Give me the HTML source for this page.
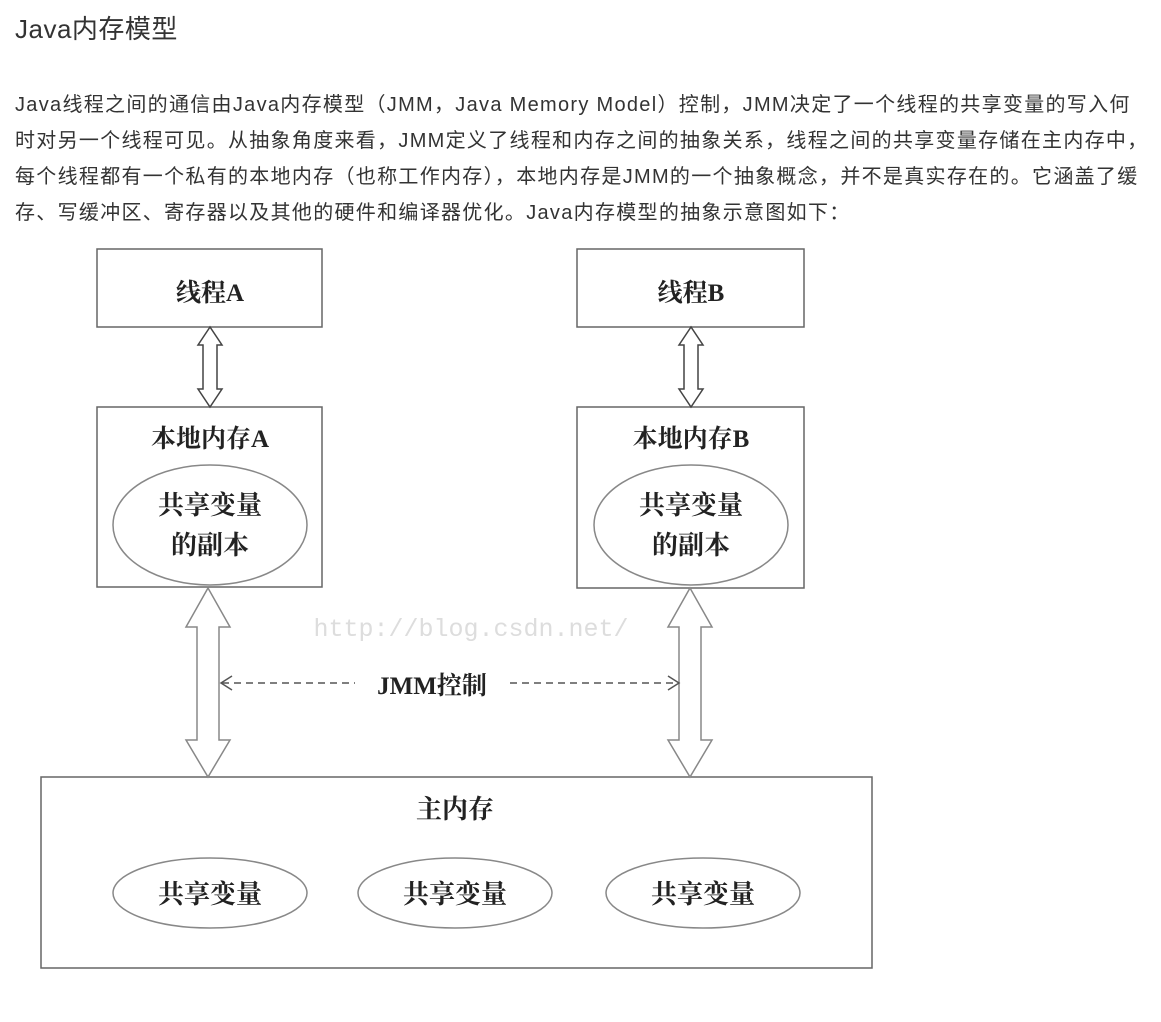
<!DOCTYPE html>
<html><head><meta charset="utf-8"><style>
html,body{margin:0;padding:0;background:#fff;width:1161px;height:1022px;overflow:hidden}
.t{position:absolute;left:15px;font-family:"Liberation Sans","Noto Sans CJK SC",sans-serif;color:#333}
h1{position:absolute;left:15px;top:9px;margin:0;font-weight:normal;font-size:26px;letter-spacing:0.5px;font-family:"Liberation Sans","Noto Sans CJK SC",sans-serif;color:#333}
.p{top:87px;font-size:20px;line-height:36px;width:1146px;letter-spacing:1.3px;white-space:nowrap}
svg{position:absolute;left:0;top:0}
svg text{font-family:"Liberation Serif","Noto Serif CJK SC",serif;fill:#222;font-weight:bold}
</style></head><body>
<h1>Java内存模型</h1>
<div class="t p">Java线程之间的通信由Java内存模型（JMM，Java Memory Model）控制，JMM决定了一个线程的共享变量的写入何<br>时对另一个线程可见。从抽象角度来看，JMM定义了线程和内存之间的抽象关系，线程之间的共享变量存储在主内存中，<br>每个线程都有一个私有的本地内存（也称工作内存），本地内存是JMM的一个抽象概念，并不是真实存在的。它涵盖了缓<br>存、写缓冲区、寄存器以及其他的硬件和编译器优化。Java内存模型的抽象示意图如下：</div>
<svg width="1161" height="1022" viewBox="0 0 1161 1022">
<g fill="none" stroke="#666" stroke-width="1.5">
<rect x="97" y="249" width="225" height="78"/>
<rect x="577" y="249" width="227" height="78"/>
<rect x="97" y="407" width="225" height="180"/>
<rect x="577" y="407" width="227" height="181"/>
<rect x="41" y="777" width="831" height="191"/>
<ellipse cx="210" cy="525" rx="97" ry="60" stroke="#888"/>
<ellipse cx="691" cy="525" rx="97" ry="60" stroke="#888"/>
<ellipse cx="210" cy="893" rx="97" ry="35" stroke="#888"/>
<ellipse cx="455" cy="893" rx="97" ry="35" stroke="#888"/>
<ellipse cx="703" cy="893" rx="97" ry="35" stroke="#888"/>
<path stroke="#444" d="M210 327 L198 345 L203 345 L203 389 L198 389 L210 407 L222 389 L217 389 L217 345 L222 345 Z"/>
<path stroke="#444" d="M691 327 L679 345 L684 345 L684 389 L679 389 L691 407 L703 389 L698 389 L698 345 L703 345 Z"/>
<path stroke="#888" d="M208 588 L186 627 L197 627 L197 740 L186 740 L208 777 L230 740 L219 740 L219 627 L230 627 Z"/>
<path stroke="#888" d="M690 588 L668 627 L679 627 L679 740 L668 740 L690 777 L712 740 L701 740 L701 627 L712 627 Z"/>
<path stroke="#555" stroke-dasharray="7,5" d="M222 683 L355 683 M510 683 L678 683"/>
<path stroke="#555" d="M232 676 L221 683 L232 690 M668 676 L679 683 L668 690"/>
</g>
<text x="210" y="301" font-size="25" text-anchor="middle">线程A</text>
<text x="691" y="301" font-size="25" text-anchor="middle">线程B</text>
<text x="210" y="447" font-size="25" text-anchor="middle">本地内存A</text>
<text x="691" y="447" font-size="25" text-anchor="middle">本地内存B</text>
<text x="210" y="514" font-size="26" text-anchor="middle">共享变量</text>
<text x="210" y="554" font-size="26" text-anchor="middle">的副本</text>
<text x="691" y="514" font-size="26" text-anchor="middle">共享变量</text>
<text x="691" y="554" font-size="26" text-anchor="middle">的副本</text>
<text x="455" y="818" font-size="26" text-anchor="middle">主内存</text>
<text x="210" y="903" font-size="26" text-anchor="middle">共享变量</text>
<text x="455" y="903" font-size="26" text-anchor="middle">共享变量</text>
<text x="703" y="903" font-size="26" text-anchor="middle">共享变量</text>
<text x="432" y="694" font-size="25" text-anchor="middle">JMM控制</text>
<text x="471" y="636" font-size="25" text-anchor="middle" style="fill:#ddd;font-weight:normal;font-family:'Liberation Mono',monospace">http://blog.csdn.net/</text>
</svg>
</body></html>
